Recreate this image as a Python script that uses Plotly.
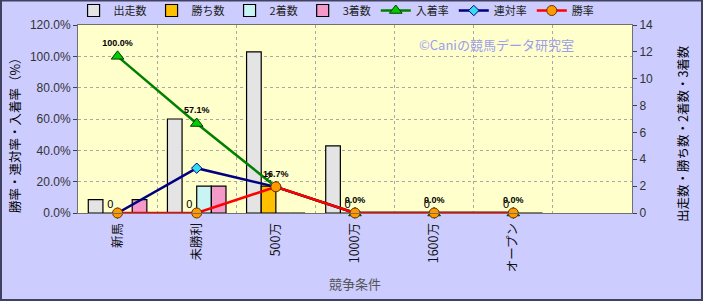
import plotly.graph_objects as go

categories = ["新馬", "未勝利", "500万", "1000万", "1600万", "オープン", " "]
runners = [1, 7, 12, 5, 0, 0]
wins = [0, 0, 2, 0, 0, 0]
seconds = [0, 2, 0, 0, 0, 0]
thirds = [1, 2, 0, 0, 0, 0]
place_rate = [1.0, 0.571, 0.167, 0.0, 0.0, 0.0]
quinella_rate = [0.0, 0.286, 0.167, 0.0, 0.0, 0.0]
win_rate = [0.0, 0.0, 0.167, 0.0, 0.0, 0.0]
left_title = "勝率・連対率・入着率（%）"
right_title = "出走数・勝ち数・2着数・3着数"
x_title = "競争条件"
watermark = "©Caniの競馬データ研究室"

cats = categories[:6]
FONT = "Noto Sans CJK JP, Liberation Sans, sans-serif"
LBL = "Liberation Sans, Arial, sans-serif"

fig = go.Figure()

bar_specs = [
    ("出走数", runners, "#E4E4E4", None),
    ("勝ち数", wins, "#FFC000", [str(v) for v in wins]),
    ("2着数", seconds, "#C8F4F4", None),
    ("3着数", thirds, "#F49AC8", None),
]
for name, vals, col, txt in bar_specs:
    fig.add_trace(go.Bar(
        x=cats, y=vals, name=name, yaxis="y",
        marker=dict(color=col, line=dict(color="#000000", width=1.2)),
        text=txt, textposition="outside" if txt else None,
        textfont=dict(family=LBL, size=11, color="#000000"),
        cliponaxis=False,
    ))

fig.add_trace(go.Scatter(
    x=cats, y=place_rate, name="入着率", yaxis="y2", mode="lines+markers+text",
    line=dict(color="#008000", width=2.5),
    marker=dict(symbol="triangle-up", size=11, color="#00CC00",
                line=dict(color="#004000", width=1)),
    text=[f"{v*100:.1f}%" for v in place_rate], textposition="top center",
    textfont=dict(family=LBL, size=9, color="#000000", weight="bold"),
    cliponaxis=False,
))
fig.add_trace(go.Scatter(
    x=cats, y=quinella_rate, name="連対率", yaxis="y2", mode="lines+markers",
    line=dict(color="#000080", width=2.5),
    marker=dict(symbol="diamond", size=8, color="#33DDEE",
                line=dict(color="#000080", width=1)),
    cliponaxis=False,
))
fig.add_trace(go.Scatter(
    x=cats, y=win_rate, name="勝率", yaxis="y2", mode="lines+markers",
    line=dict(color="#FF0000", width=2.5),
    marker=dict(symbol="circle", size=10, color="#FF9900",
                line=dict(color="#663300", width=1)),
    cliponaxis=False,
))

fig.update_layout(
    width=703, height=301,
    margin=dict(l=78, r=71, t=25, b=88, autoexpand=False),
    paper_bgcolor="#CCCCFF", plot_bgcolor="#FFFFCC",
    font=dict(family=FONT, size=12, color="#333333"),
    barmode="group", bargap=0.26, bargroupgap=0,
    showlegend=True,
    legend=dict(orientation="h", x=-0.008, xanchor="left", y=1.0, yanchor="bottom",
                font=dict(family=FONT, size=11, color="#222222"),
                bgcolor="rgba(0,0,0,0)", itemwidth=30, tracegroupgap=0,
                traceorder="normal"),
    xaxis=dict(
        type="category", categoryorder="array", categoryarray=categories,
        range=[-0.5, 6.5], tickson="boundaries", tickangle=-90,
        showgrid=True, gridcolor="#A8A8A8", griddash="dot", gridwidth=1,
        showline=True, linecolor="#707070", linewidth=1, mirror=True,
        ticks="", ticklabelstandoff=4,
        tickfont=dict(family=FONT, size=12.5, color="#111111"),
    ),
    yaxis=dict(
        side="right", range=[0, 14], dtick=2, showgrid=False, zeroline=False,
        showline=True, linecolor="#707070", linewidth=1,
        ticks="outside", ticklen=4, tickcolor="#404040",
        tickfont=dict(family=LBL, size=12, color="#333333"),
    ),
    yaxis2=dict(
        side="left", overlaying="y", range=[0, 1.2], dtick=0.2, tickformat=".1%",
        showgrid=True, gridcolor="#A8A8A8", griddash="dot", gridwidth=1,
        zeroline=False, showline=True, linecolor="#707070", linewidth=1,
        ticks="outside", ticklen=4, tickcolor="#404040",
        tickfont=dict(family=LBL, size=12, color="#333333"),
    ),
)

fig.add_annotation(
    text=left_title, xref="paper", yref="paper", x=(15 - 78) / 554, y=0.431,
    xanchor="center", yanchor="middle", textangle=-90, showarrow=False,
    font=dict(family=FONT, size=12.5, color="#000000"),
)
fig.add_annotation(
    text=right_title, xref="paper", yref="paper", x=(682 - 78) / 554, y=0.42,
    xanchor="center", yanchor="middle", textangle=-90, showarrow=False,
    font=dict(family=FONT, size=12.5, color="#000000"),
)
fig.add_annotation(
    text=x_title, xref="paper", yref="paper", x=0.5, y=(213 - 283) / 188,
    xanchor="center", yanchor="middle", showarrow=False,
    font=dict(family=FONT, size=13, color="#555555"),
)
fig.add_annotation(
    text=watermark, xref="paper", yref="paper",
    x=(496 - 78) / 554, y=(213 - 44) / 188, xanchor="center", yanchor="middle",
    showarrow=False, font=dict(family=FONT, size=13, color="#9C9CF0"),
)

fig.add_shape(type="rect", xref="paper", yref="paper",
              x0=(1 - 78) / 554, x1=(702 - 78) / 554,
              y0=(213 - 300) / 188, y1=(213 - 0.5) / 188,
              line=dict(color="#404060", width=2), layer="above")

fig.write_html("out.html")
